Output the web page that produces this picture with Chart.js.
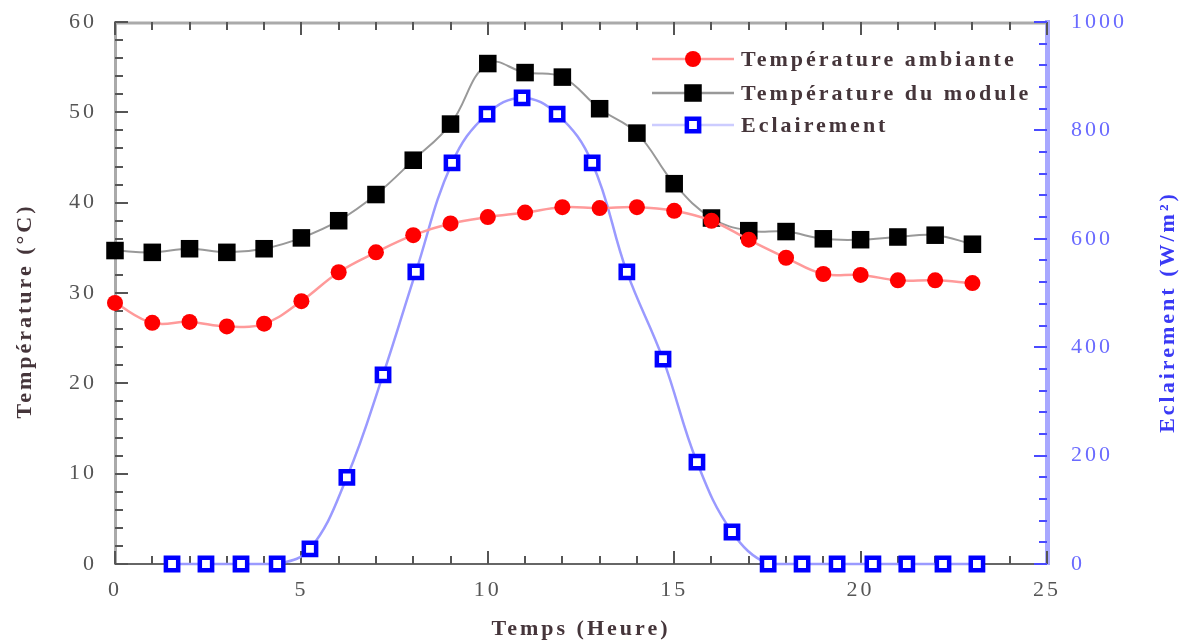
<!DOCTYPE html>
<html>
<head>
<meta charset="utf-8">
<title>Température et éclairement</title>
<script src="https://cdn.jsdelivr.net/npm/chart.js@4.4.0/dist/chart.umd.min.js"></script>
<style>
    html, body { margin: 0; padding: 0; background: #fff; }
    canvas { display: block; }
</style>
</head>
<body>
<canvas id="graph_temp" width="1195" height="643"></canvas>
<script>
// hourly readings
var heures = [0, 1, 2, 3, 4, 5, 6, 7, 8, 9, 10, 11, 12, 13, 14, 15, 16, 17, 18, 19, 20, 21, 22, 23];
var temp_ambiante = [28.9, 26.7, 26.8, 26.3, 26.6, 29.1, 32.3, 34.5, 36.4, 37.7, 38.4, 38.9, 39.5, 39.4, 39.5, 39.1, 38.0, 35.9, 33.9, 32.1, 32.0, 31.4, 31.4, 31.1];
var temp_module = [34.7, 34.5, 34.9, 34.5, 34.9, 36.1, 38.0, 40.9, 44.7, 48.7, 55.4, 54.4, 53.9, 50.4, 47.7, 42.1, 38.3, 36.9, 36.8, 36.0, 35.9, 36.2, 36.4, 35.4];

// irradiance was logged on its own time base
var heures_eclairement = [1.53, 2.44, 3.38, 4.35, 5.23, 6.22, 7.19, 8.07, 9.04, 9.98, 10.92, 11.86, 12.80, 13.73, 14.70, 15.61, 16.55, 17.52, 18.43, 19.37, 20.33, 21.24, 22.21, 23.12];
var eclairement = [0, 0, 0, 0, 28, 160, 349, 539, 740, 830, 860, 830, 740, 539, 378, 188, 59, 0, 0, 0, 0, 0, 0, 0];

var serif = "'Liberation Serif', 'Times New Roman', serif";
var text_color = '#45353a';
var blue_text = '#3a3af5';

function toPoints(xs, ys)
{
    var pts = [];
    for (var i = 0; i < xs.length; i++) {
        pts.push({x: xs[i], y: ys[i]});
    }
    return pts;
}

function setSpacing(chart)
{
    chart.ctx.letterSpacing = '3px';
}

// vertical axes: no extra room reserved for the end labels
function fitVertical(width)
{
    return function(scale) {
        scale.width = width;
        scale.paddingTop = 0;
        scale.paddingBottom = 0;
    };
}

// inward tick marks on all four sides
function tickMarks(ctx, scale, from, to, minor, major, pos, dir, horizontal, color)
{
    ctx.strokeStyle = color;
    ctx.lineWidth = 2;
    for (var v = from; v <= to + 1e-9; v += minor) {
        var isMajor = Math.abs(v / major - Math.round(v / major)) < 1e-6;
        var len = isMajor ? 13 : 8;
        var p = Math.round(scale.getPixelForValue(v));
        ctx.beginPath();
        if (horizontal) {
            ctx.moveTo(p, pos);
            ctx.lineTo(p, pos + dir * len);
        } else {
            ctx.moveTo(pos, p);
            ctx.lineTo(pos + dir * len, p);
        }
        ctx.stroke();
    }
}

function verticalTitle(ctx, text, x, y, color)
{
    ctx.save();
    ctx.translate(x, y);
    ctx.rotate(-Math.PI / 2);
    ctx.font = 'bold 22px ' + serif;
    ctx.fillStyle = color;
    ctx.textAlign = 'center';
    ctx.textBaseline = 'middle';
    ctx.fillText(text, 0, 0);
    ctx.restore();
}

var decor = {
    id: 'decor',
    beforeLayout: setSpacing,
    beforeDraw: setSpacing,
    beforeDatasetsDraw: function(chart) {
        var ctx = chart.ctx;
        var a = chart.chartArea;
        var s = chart.scales;
        ctx.save();
        // top frame line
        ctx.strokeStyle = '#aaaaaa';
        ctx.lineWidth = 3;
        ctx.beginPath();
        ctx.moveTo(a.left, a.top + 1);
        ctx.lineTo(a.right, a.top + 1);
        ctx.stroke();

        tickMarks(ctx, s.x, 0, 25, 1, 5, a.bottom, -1, true, '#555555');
        tickMarks(ctx, s.x, 0, 25, 1, 5, a.top, 1, true, '#555555');
        tickMarks(ctx, s.y, 0, 60, 2, 10, a.left, 1, false, '#555555');
        tickMarks(ctx, s.y1, 0, 1000, 40, 200, a.right, -1, false, '#4a4aff');
        ctx.restore();
    },
    afterDraw: function(chart) {
        var ctx = chart.ctx;
        ctx.save();
        ctx.letterSpacing = '3px';
        verticalTitle(ctx, 'Température (°C)', 25, 311, text_color);
        verticalTitle(ctx, 'Eclairement (W/m²)', 1168, 312, blue_text);

        // legend: line sample, marker, label
        var rows = [59, 93, 125];
        chart.data.datasets.forEach(function(ds, i) {
            var y = rows[i];
            ctx.strokeStyle = ds.legendLine;
            ctx.lineWidth = 2.5;
            ctx.beginPath();
            ctx.moveTo(652, y);
            ctx.lineTo(734, y);
            ctx.stroke();

            ctx.fillStyle = ds.pointBackgroundColor;
            ctx.strokeStyle = ds.pointBorderColor;
            ctx.lineWidth = ds.pointBorderWidth;
            Chart.helpers.drawPoint(ctx, {
                pointStyle: ds.pointStyle,
                radius: ds.pointRadius,
                rotation: 0,
                borderWidth: ds.pointBorderWidth
            }, 693, y);

            ctx.font = 'bold 22px ' + serif;
            ctx.fillStyle = text_color;
            ctx.textAlign = 'left';
            ctx.textBaseline = 'middle';
            ctx.fillText(ds.label, 741, y + 1);
        });
        ctx.restore();
    }
};

Chart.defaults.font.family = serif;
Chart.defaults.font.size = 22;

var data_temp = {
    datasets: [
        {
            label: 'Température ambiante',
            data: toPoints(heures, temp_ambiante),
            yAxisID: 'y',
            borderColor: '#ff9a9a',
            legendLine: '#ff9a9a',
            borderWidth: 2.5,
            pointStyle: 'circle',
            pointRadius: 8,
            pointBackgroundColor: '#ff0000',
            pointBorderColor: '#ff0000',
            pointBorderWidth: 0,
            tension: 0.4,
            clip: false
        },
        {
            label: 'Température du module',
            data: toPoints(heures, temp_module),
            yAxisID: 'y',
            borderColor: '#999999',
            legendLine: '#999999',
            borderWidth: 2,
            pointStyle: 'rect',
            pointRadius: 12.4,
            pointBackgroundColor: '#000000',
            pointBorderColor: '#000000',
            pointBorderWidth: 0,
            tension: 0.4,
            clip: false
        },
        {
            label: 'Eclairement',
            data: toPoints(heures_eclairement, eclairement),
            yAxisID: 'y1',
            borderColor: '#9a9aff',
            legendLine: '#ccccff',
            borderWidth: 2.5,
            pointStyle: 'rect',
            pointRadius: 8.7,
            pointBackgroundColor: '#ffffff',
            pointBorderColor: '#0000ff',
            pointBorderWidth: 4.5,
            tension: 0.4,
            clip: false
        }
    ]
};

var options = {
    responsive: false,
    animation: false,
    layout: {
        padding: {top: 22, left: 0, right: 0, bottom: 0}
    },
    plugins: {
        legend: {display: false},
        tooltip: {enabled: false}
    },
    scales: {
        x: {
            type: 'linear',
            min: 0,
            max: 25,
            grid: {display: false},
            border: {display: true, color: '#666666', width: 2},
            ticks: {stepSize: 5, color: '#555555', padding: 5, font: {size: 22}},
            title: {
                display: true,
                text: 'Temps (Heure)',
                color: text_color,
                font: {size: 22, weight: 'bold'},
                padding: {top: 0, bottom: 0}
            },
            afterFit: function(scale) {
                scale.height = 79;
                scale.paddingLeft = 0;
                scale.paddingRight = 0;
            }
        },
        y: {
            position: 'left',
            min: 0,
            max: 60,
            grid: {display: false},
            border: {display: true, color: '#aaaaaa', width: 3},
            ticks: {stepSize: 10, color: '#555555', padding: 10, font: {size: 22}},
            afterFit: fitVertical(115)
        },
        y1: {
            position: 'right',
            min: 0,
            max: 1000,
            grid: {display: false},
            border: {display: true, color: '#a8a8ff', width: 5},
            ticks: {
                stepSize: 200,
                color: '#6a6aff',
                padding: 16,
                font: {size: 22},
                callback: function(value) { return String(value); }
            },
            afterFit: fitVertical(148)
        }
    }
};

var ctx_temp = document.getElementById('graph_temp').getContext('2d');

var chart_temp = new Chart(ctx_temp, {
    type: 'line',
    data: data_temp,
    options: options,
    plugins: [decor]
});
</script>
</body>
</html>
